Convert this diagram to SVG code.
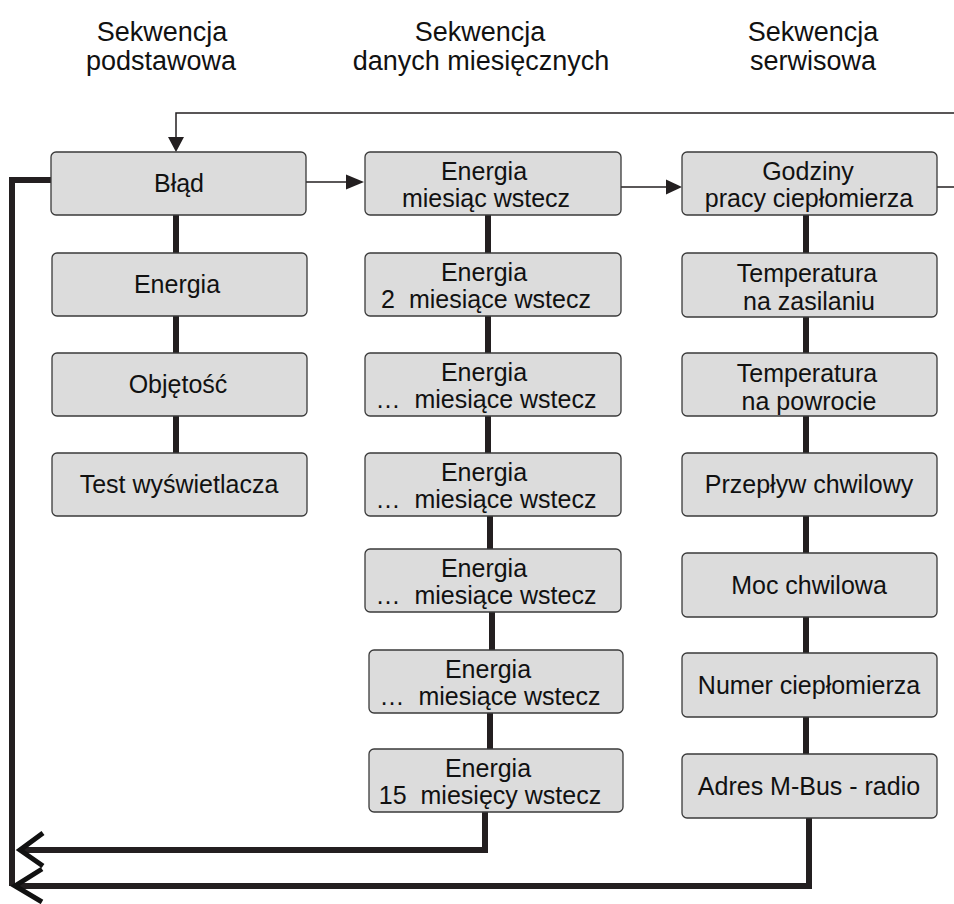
<svg xmlns="http://www.w3.org/2000/svg" width="954" height="904" viewBox="0 0 954 904">
<style>
.box{fill:#dcdcdc;stroke:#3a3a3a;stroke-width:1.3}
.t{font-family:"Liberation Sans",Arial,sans-serif;font-size:25px;fill:#111;text-anchor:middle;white-space:pre}
.h{font-family:"Liberation Sans",Arial,sans-serif;font-size:27px;fill:#111;text-anchor:middle}
.thick{fill:none;stroke:#231f20;stroke-width:6}
.thin{fill:none;stroke:#231f20;stroke-width:1.5}
.head{fill:#231f20;stroke:none}
.chev{fill:none;stroke:#111;stroke-width:5}
</style>
<rect width="954" height="904" fill="#fff"/>
<g id="headers">
<text class="h" x="162" y="41">Sekwencja</text>
<text class="h" x="161" y="70">podstawowa</text>
<text class="h" x="480" y="41">Sekwencja</text>
<text class="h" x="481" y="70">danych miesięcznych</text>
<text class="h" x="813" y="41">Sekwencja</text>
<text class="h" x="813" y="70">serwisowa</text>
</g>
<g id="connectors">
<path class="thick" d="M176 215V253M176 316V353M176 416V453"/>
<path class="thick" d="M488 215V253M488 316V353M488 416V453M490 516V549M492 612V650M490 713V749"/>
<path class="thick" d="M806 215V253M806 317V353M806 416V453M806 516V553M806 617V653M806 717V754"/>
<path class="thick" d="M51 180H12V886"/>
<path class="thick" d="M485 812V850H20"/>
<path class="thick" d="M809 818V886H15"/>
<path class="chev" d="M43 833L20 850L43 866"/>
<path class="chev" d="M42 869L15 886L42 902"/>
<path class="thin" d="M954 113H176V138"/>
<polygon class="head" points="168,137 184,137 176,152"/>
<path class="thin" d="M306 182H348"/>
<polygon class="head" points="346,174.5 346,189.5 364,182"/>
<path class="thin" d="M621 187H668"/>
<polygon class="head" points="666,179.5 666,194.5 682,187"/>
<path class="thin" d="M937 187H954"/>
</g>
<g id="n-blad"><rect class="box" x="51" y="152" width="255" height="63" rx="5"/><text class="t" x="179" y="192">Błąd</text></g>
<g id="n-energia"><rect class="box" x="52" y="253" width="255" height="63" rx="5"/><text class="t" x="177" y="293">Energia</text></g>
<g id="n-objetosc"><rect class="box" x="52" y="353" width="255" height="63" rx="5"/><text class="t" x="178" y="393">Objętość</text></g>
<g id="n-test"><rect class="box" x="52" y="453" width="255" height="63" rx="5"/><text class="t" x="179" y="493">Test wyświetlacza</text></g>

<g id="m1"><rect class="box" x="365" y="152" width="256" height="63" rx="5"/><text class="t" x="484" y="180">Energia</text><text class="t" x="486" y="207">miesiąc wstecz</text></g>
<g id="m2"><rect class="box" x="365" y="253" width="256" height="63" rx="5"/><text class="t" x="484" y="281">Energia</text><text class="t" x="486" y="308">2  miesiące wstecz</text></g>
<g id="m3"><rect class="box" x="365" y="353" width="256" height="63" rx="5"/><text class="t" x="484" y="381">Energia</text><text class="t" x="486" y="408">…  miesiące wstecz</text></g>
<g id="m4"><rect class="box" x="365" y="453" width="256" height="63" rx="5"/><text class="t" x="484" y="481">Energia</text><text class="t" x="486" y="508">…  miesiące wstecz</text></g>
<g id="m5"><rect class="box" x="365" y="549" width="256" height="63" rx="5"/><text class="t" x="484" y="577">Energia</text><text class="t" x="486" y="604">…  miesiące wstecz</text></g>
<g id="m6"><rect class="box" x="369" y="650" width="254" height="63" rx="5"/><text class="t" x="488" y="678">Energia</text><text class="t" x="490" y="705">…  miesiące wstecz</text></g>
<g id="m7"><rect class="box" x="369" y="749" width="254" height="63" rx="5"/><text class="t" x="488" y="777">Energia</text><text class="t" x="490" y="804">15  miesięcy wstecz</text></g>

<g id="s1"><rect class="box" x="682" y="152" width="255" height="63" rx="5"/><text class="t" x="808" y="180">Godziny</text><text class="t" x="809" y="207">pracy ciepłomierza</text></g>
<g id="s2"><rect class="box" x="682" y="253" width="255" height="64" rx="5"/><text class="t" x="807" y="282">Temperatura</text><text class="t" x="809" y="310">na zasilaniu</text></g>
<g id="s3"><rect class="box" x="682" y="353" width="255" height="63" rx="5"/><text class="t" x="807" y="382">Temperatura</text><text class="t" x="809" y="410">na powrocie</text></g>
<g id="s4"><rect class="box" x="682" y="453" width="255" height="63" rx="5"/><text class="t" x="809" y="493">Przepływ chwilowy</text></g>
<g id="s5"><rect class="box" x="682" y="553" width="255" height="64" rx="5"/><text class="t" x="809" y="594">Moc chwilowa</text></g>
<g id="s6"><rect class="box" x="682" y="653" width="255" height="64" rx="5"/><text class="t" x="809" y="694">Numer ciepłomierza</text></g>
<g id="s7"><rect class="box" x="682" y="754" width="255" height="64" rx="5"/><text class="t" x="809" y="795">Adres M-Bus - radio</text></g>
</svg>
